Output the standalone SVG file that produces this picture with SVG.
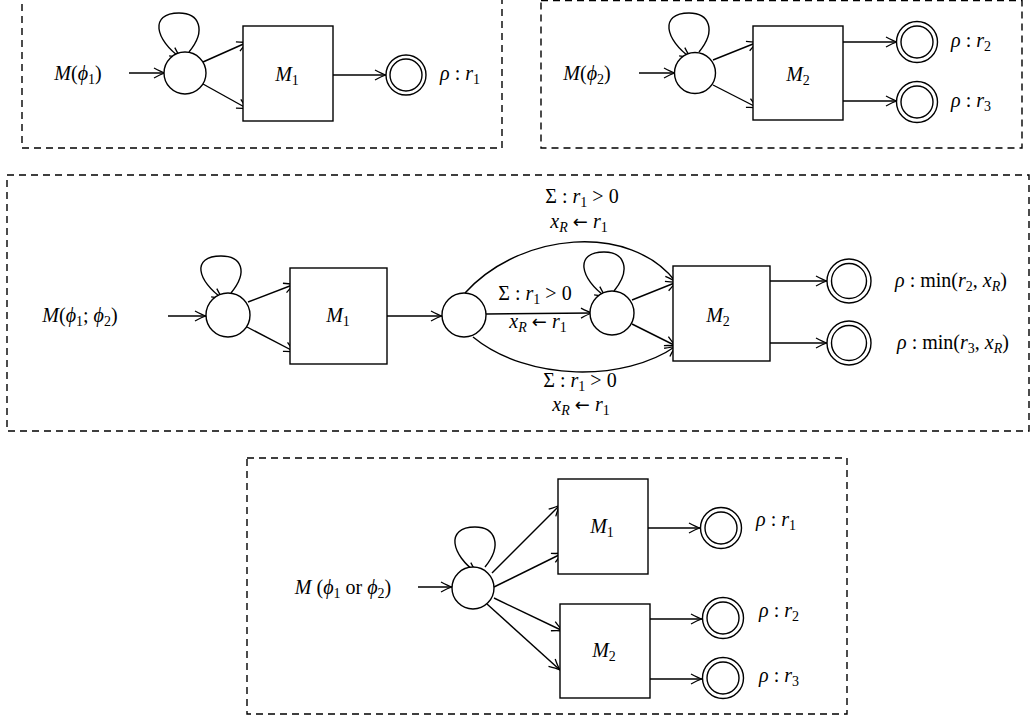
<svg xmlns="http://www.w3.org/2000/svg" width="1030" height="721" viewBox="0 0 1030 721">
<style>
.bg{fill:#fff}
.panel{fill:none;stroke:#000;stroke-width:1.4;stroke-dasharray:7 5}
.st{fill:#fff;stroke:#000;stroke-width:1.4}
.box{fill:#fff;stroke:#000;stroke-width:1.4}
.e{fill:none;stroke:#000;stroke-width:1.4;marker-end:url(#ah)}
.m{font-family:"Liberation Serif","DejaVu Serif",serif;font-size:20px;fill:#000;text-anchor:middle}
.i{font-style:italic}
.s{font-size:14px}
.ar{font-family:"DejaVu Sans",sans-serif;font-size:18px}
</style>
<defs>
<marker id="ah" markerWidth="16" markerHeight="16" viewBox="-14 -8 16 16" refX="0" refY="0" orient="auto" markerUnits="userSpaceOnUse">
<path d="M-11,-5 Q-4,-1.2 0,0 Q-4,1.2 -11,5" fill="none" stroke="#000" stroke-width="1.3"/>
</marker>
</defs>
<rect class="bg" x="0" y="0" width="1030" height="721"/>

<g id="panels">
<rect class="panel" x="22" y="-3" width="480" height="151"/>
<rect class="panel" x="541" y="0.5" width="481" height="147.5"/>
<rect class="panel" x="7" y="175" width="1022" height="256"/>
<rect class="panel" x="247" y="458" width="600" height="256"/>
</g>

<g id="connectors">
<!-- top-left -->
<path class="e" d="M129,73 L165,73"/>
<path class="e" d="M189,52 C207,30 199,13 179,13 C149,13 155,40 181,58"/>
<path class="e" d="M203,62 L248,42"/>
<path class="e" d="M203,84 L248,109"/>
<path class="e" d="M333,75 L386,75"/>
<!-- top-right -->
<path class="e" d="M639,73 L675,73"/>
<path class="e" d="M699,52 C717,30 709,13 689,13 C659,13 665,40 691,58"/>
<path class="e" d="M713,60 L758,42"/>
<path class="e" d="M713,85 L758,108"/>
<path class="e" d="M843,42 L897,42"/>
<path class="e" d="M843,101 L897,101"/>
<!-- middle -->
<path class="e" d="M168,316 L206,316"/>
<path class="e" d="M231,293 C249,271 241,256 221,256 C191,256 197,281 223,299"/>
<path class="e" d="M248,302 L295,284"/>
<path class="e" d="M247,327 L295,352"/>
<path class="e" d="M387,316 L442,316"/>
<path class="e" d="M486,314 L592,313"/>
<path class="e" d="M465,293 C520,232 630,222 676,282"/>
<path class="e" d="M473,337 C528,382 625,382 676,346"/>
<path class="e" d="M614,291 C632,269 624,252 604,252 C574,252 580,279 606,297"/>
<path class="e" d="M632,300 L677,282"/>
<path class="e" d="M632,324 L676,346"/>
<path class="e" d="M770,281 L827,281"/>
<path class="e" d="M770,343 L827,343"/>
<!-- bottom -->
<path class="e" d="M418,587 L452,587"/>
<path class="e" d="M485,567 C503,545 495,527 475,527 C445,527 451,555 477,573"/>
<path class="e" d="M492,573 L560,505"/>
<path class="e" d="M494,587 L563,553"/>
<path class="e" d="M494,598 L563,631"/>
<path class="e" d="M487,604 L560,670"/>
<path class="e" d="M648,528 L700,528"/>
<path class="e" d="M650,619 L702,619"/>
<path class="e" d="M650,679 L702,679"/>
</g>

<!-- top-left panel -->
<g id="tl-input"><text class="m" x="78" y="80"><tspan class="i">M</tspan>(<tspan class="i">ϕ</tspan><tspan class="s" dy="4">1</tspan><tspan dy="-4">)</tspan></text></g>
<g id="tl-q0"><circle class="st" cx="185" cy="73" r="21"/></g>
<g id="tl-M1"><rect class="box" x="243" y="26" width="90" height="95"/><text class="m" x="287" y="81"><tspan class="i">M</tspan><tspan class="s" dy="4">1</tspan></text></g>
<g id="tl-acc"><circle class="st" cx="406" cy="75" r="20"/><circle class="st" cx="406" cy="75" r="16"/><text class="m" x="460" y="80"><tspan class="i">ρ</tspan> : <tspan class="i">r</tspan><tspan class="s" dy="4">1</tspan></text></g>

<!-- top-right panel -->
<g id="tr-input"><text class="m" x="587" y="80"><tspan class="i">M</tspan>(<tspan class="i">ϕ</tspan><tspan class="s" dy="4">2</tspan><tspan dy="-4">)</tspan></text></g>
<g id="tr-q0"><circle class="st" cx="695" cy="73" r="20.5"/></g>
<g id="tr-M2"><rect class="box" x="753" y="26" width="90" height="94"/><text class="m" x="798" y="81"><tspan class="i">M</tspan><tspan class="s" dy="4">2</tspan></text></g>
<g id="tr-acc2"><circle class="st" cx="917" cy="42" r="20.5"/><circle class="st" cx="917" cy="42" r="16"/><text class="m" x="971" y="47"><tspan class="i">ρ</tspan> : <tspan class="i">r</tspan><tspan class="s" dy="4">2</tspan></text></g>
<g id="tr-acc3"><circle class="st" cx="917" cy="102" r="20.5"/><circle class="st" cx="917" cy="102" r="16"/><text class="m" x="971" y="107"><tspan class="i">ρ</tspan> : <tspan class="i">r</tspan><tspan class="s" dy="4">3</tspan></text></g>

<!-- middle panel -->
<g id="mid-input"><text class="m" x="80" y="322"><tspan class="i">M</tspan>(<tspan class="i">ϕ</tspan><tspan class="s" dy="4">1</tspan><tspan dy="-4">; </tspan><tspan class="i">ϕ</tspan><tspan class="s" dy="4">2</tspan><tspan dy="-4">)</tspan></text></g>
<g id="mid-q0"><circle class="st" cx="228" cy="315" r="22"/></g>
<g id="mid-M1"><rect class="box" x="290" y="268" width="97" height="96"/><text class="m" x="338" y="322"><tspan class="i">M</tspan><tspan class="s" dy="4">1</tspan></text></g>
<g id="mid-q1"><circle class="st" cx="464" cy="315" r="22"/></g>
<g id="mid-q2"><circle class="st" cx="612" cy="313" r="22"/></g>
<g id="mid-M2"><rect class="box" x="673" y="266" width="97" height="95"/><text class="m" x="718" y="322"><tspan class="i">M</tspan><tspan class="s" dy="4">2</tspan></text></g>
<g id="mid-acc2"><circle class="st" cx="849" cy="281" r="22"/><circle class="st" cx="849" cy="281" r="17.5"/><text class="m" x="951" y="287"><tspan class="i">ρ</tspan> : min(<tspan class="i">r</tspan><tspan class="s" dy="4">2</tspan><tspan dy="-4">, </tspan><tspan class="i">x</tspan><tspan class="s i" dy="4">R</tspan><tspan dy="-4">)</tspan></text></g>
<g id="mid-acc3"><circle class="st" cx="849" cy="343" r="22"/><circle class="st" cx="849" cy="343" r="17.5"/><text class="m" x="953" y="349"><tspan class="i">ρ</tspan> : min(<tspan class="i">r</tspan><tspan class="s" dy="4">3</tspan><tspan dy="-4">, </tspan><tspan class="i">x</tspan><tspan class="s i" dy="4">R</tspan><tspan dy="-4">)</tspan></text></g>
<g id="mid-labels">
<text class="m" x="582" y="203">Σ : <tspan class="i">r</tspan><tspan class="s" dy="4">1</tspan><tspan dy="-4"> &gt; 0</tspan></text>
<text class="m" x="579" y="228"><tspan class="i">x</tspan><tspan class="s i" dy="4">R</tspan><tspan dy="-4"> </tspan><tspan class="ar">←</tspan> <tspan class="i">r</tspan><tspan class="s" dy="4">1</tspan></text>
<text class="m" x="535" y="300">Σ : <tspan class="i">r</tspan><tspan class="s" dy="4">1</tspan><tspan dy="-4"> &gt; 0</tspan></text>
<text class="m" x="538" y="328"><tspan class="i">x</tspan><tspan class="s i" dy="4">R</tspan><tspan dy="-4"> </tspan><tspan class="ar">←</tspan> <tspan class="i">r</tspan><tspan class="s" dy="4">1</tspan></text>
<text class="m" x="580" y="387">Σ : <tspan class="i">r</tspan><tspan class="s" dy="4">1</tspan><tspan dy="-4"> &gt; 0</tspan></text>
<text class="m" x="581" y="411"><tspan class="i">x</tspan><tspan class="s i" dy="4">R</tspan><tspan dy="-4"> </tspan><tspan class="ar">←</tspan> <tspan class="i">r</tspan><tspan class="s" dy="4">1</tspan></text>
</g>

<!-- bottom panel -->
<g id="bot-input"><text class="m" x="343" y="594"><tspan class="i">M</tspan> (<tspan class="i">ϕ</tspan><tspan class="s" dy="4">1</tspan><tspan dy="-4"> or </tspan><tspan class="i">ϕ</tspan><tspan class="s" dy="4">2</tspan><tspan dy="-4">)</tspan></text></g>
<g id="bot-q0"><circle class="st" cx="473" cy="588" r="21"/></g>
<g id="bot-M1"><rect class="box" x="558" y="479" width="90" height="95"/><text class="m" x="602" y="533"><tspan class="i">M</tspan><tspan class="s" dy="4">1</tspan></text></g>
<g id="bot-M2"><rect class="box" x="560" y="604" width="90" height="94"/><text class="m" x="604" y="657"><tspan class="i">M</tspan><tspan class="s" dy="4">2</tspan></text></g>
<g id="bot-acc1"><circle class="st" cx="721" cy="528" r="20.5"/><circle class="st" cx="721" cy="528" r="16"/><text class="m" x="776" y="526"><tspan class="i">ρ</tspan> : <tspan class="i">r</tspan><tspan class="s" dy="4">1</tspan></text></g>
<g id="bot-acc2"><circle class="st" cx="723" cy="618" r="20.5"/><circle class="st" cx="723" cy="618" r="16"/><text class="m" x="779" y="617"><tspan class="i">ρ</tspan> : <tspan class="i">r</tspan><tspan class="s" dy="4">2</tspan></text></g>
<g id="bot-acc3"><circle class="st" cx="723" cy="678" r="20.5"/><circle class="st" cx="723" cy="678" r="16"/><text class="m" x="779" y="682"><tspan class="i">ρ</tspan> : <tspan class="i">r</tspan><tspan class="s" dy="4">3</tspan></text></g>
</svg>
